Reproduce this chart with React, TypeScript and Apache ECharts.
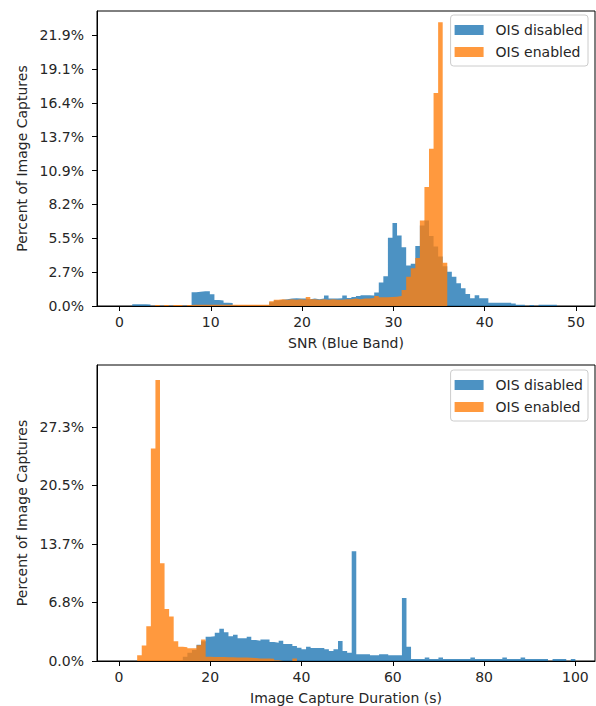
import React, { useEffect, useRef } from 'react';
import * as echarts from 'echarts';

const FONT = '"DejaVu Sans", sans-serif';
const TEXT = '#262626';
const SERIES_NAMES = ['OIS disabled', 'OIS enabled'];
const COLORS = ['rgba(31,119,180,0.8)', 'rgba(255,127,14,0.8)'];

// ---- Top panel: SNR (Blue Band) histogram, bins of 0.5 starting at 0.4 ----
const SNR_BIN_START = 0.4;
const SNR_BIN_WIDTH = 0.5;
const snrDisabled = [
  0, 0, 0.15, 0.15, 0.15, 0.12, 0, 0, 0, 0,
  0, 0, 0, 0, 0, 1.1, 1.15, 1.2, 1.2, 0.95,
  0.48, 0.45, 0.27, 0.25, 0.08, 0, 0, 0, 0, 0,
  0, 0, 0.3, 0.45, 0.5, 0.55, 0.6, 0.62, 0.6, 0.6,
  0.55, 0.6, 0.55, 0.6, 0.85, 0.6, 0.6, 0.62, 0.85, 0.65,
  0.72, 0.8, 0.87, 0.87, 0.85, 1.08, 1.9, 2.4, 5.5, 6.7,
  5.7, 4.74, 3.26, 3.4, 4.85, 6.5, 6.9, 5.65, 4.8, 4.0,
  3.2, 2.77, 2.37, 1.83, 1.43, 0.97, 0.62, 0.86, 0.62, 0.62,
  0.27, 0.27, 0.27, 0.27, 0.27, 0.2, 0.1, 0.1, 0, 0.08,
  0, 0.1, 0.1, 0.1, 0.1, 0, 0, 0, 0, 0,
];
const snrEnabled = [
  0, 0, 0, 0, 0, 0, 0, 0.08, 0, 0.08,
  0, 0.08, 0.08, 0, 0.08, 0.1, 0.1, 0.1, 0.1, 0.1,
  0.1, 0.1, 0.1, 0.1, 0.1, 0.1, 0.1, 0.1, 0.1, 0.1,
  0.1, 0.1, 0.38, 0.5, 0.55, 0.5, 0.55, 0.5, 0.55, 0.5,
  0.72, 0.55, 0.5, 0.55, 0.5, 0.55, 0.5, 0.5, 0.55, 0.55,
  0.6, 0.55, 0.6, 0.6, 0.65, 0.8, 0.7, 0.7, 0.72, 0.75,
  0.8, 1.3, 2.37, 3.05, 3.87, 6.9, 9.6, 12.7, 17.2, 22.9,
  3.5, 0, 0, 0, 0, 0, 0, 0, 0, 0,
  0, 0, 0, 0, 0, 0, 0, 0, 0, 0,
  0, 0, 0, 0, 0, 0, 0, 0, 0, 0,
];
const SNR_X_TICKS = [0, 10, 20, 30, 40, 50];
const SNR_X_MIN = -2.46;
const SNR_X_MAX = 52.08;
const SNR_Y_STEP = (100 * 50) / 1829;
const SNR_Y_MAX = 23.81;
const SNR_Y_LABELS = ['0.0%', '2.7%', '5.5%', '8.2%', '10.9%', '13.7%', '16.4%', '19.1%', '21.9%'];

// ---- Bottom panel: Image Capture Duration histogram, bins of 1 s starting at 0 ----
const DUR_BIN_START = 0;
const DUR_BIN_WIDTH = 1;
const durDisabled = [
  0, 0, 0, 0, 0, 0, 0, 0, 0, 0,
  0, 0, 0, 0, 0.5, 0.97, 1.28, 1.9, 2.3, 2.83,
  2.9, 3.3, 3.76, 3.37, 2.9, 3.05, 2.67, 2.67, 2.83, 2.44,
  2.37, 2.52, 2.52, 2.21, 2.14, 2.37, 1.98, 1.98, 1.74, 1.55,
  1.36, 1.67, 1.51, 1.51, 1.51, 1.36, 1.16, 1.36, 2.33, 1.16,
  0.97, 12.8, 0.78, 0.78, 0.78, 0.66, 0.66, 0.78, 0.78, 0.66,
  0.66, 0.66, 7.36, 1.67, 0.22, 0.22, 0.22, 0.4, 0.22, 0.22,
  0.4, 0.22, 0.22, 0.22, 0.22, 0.22, 0.22, 0.4, 0.22, 0.22,
  0.22, 0.22, 0.22, 0.22, 0.4, 0.22, 0.22, 0.22, 0.4, 0.22,
  0.22, 0.22, 0.22, 0.22, 0, 0.22, 0.22, 0.22, 0, 0.22,
];
const durEnabled = [
  0, 0, 0, 0, 0.66, 1.82, 4.07, 24.8, 32.8, 11.4,
  6.08, 5.2, 2.3, 1.67, 1.6, 1.5, 1.5, 1.85, 2.5, 0.5,
  0.47, 0.47, 0.47, 0.45, 0.45, 0.42, 0.4, 0.4, 0.38, 0.35,
  0.3, 0.3, 0.28, 0.25, 0.08, 0, 0, 0, 0.3, 0,
  0, 0, 0, 0, 0, 0, 0, 0, 0, 0,
  0, 0, 0, 0, 0, 0, 0, 0, 0, 0,
  0, 0, 0, 0, 0, 0, 0, 0, 0, 0,
  0, 0, 0, 0, 0, 0, 0, 0, 0, 0,
  0, 0, 0, 0, 0, 0, 0, 0, 0, 0,
  0, 0, 0, 0, 0, 0, 0, 0, 0, 0,
];
const DUR_X_TICKS = [0, 20, 40, 60, 80, 100];
const DUR_X_MIN = -4.8;
const DUR_X_MAX = 104.3;
const DUR_Y_STEP = (100 * 125) / 1829;
const DUR_Y_MAX = 34.55;
const DUR_Y_LABELS = ['0.0%', '6.8%', '13.7%', '20.5%', '27.3%'];

const Y_NAME = 'Percent of Image Captures';

// Histogram as step points: each bin's left edge with its value, plus the final right edge.
function toSteps(values: number[], start: number, width: number) {
  const pts = values.map((v, i) => [start + i * width, v]);
  pts.push([start + values.length * width, values[values.length - 1]]);
  return pts;
}

const textStyle = { fontSize: 14, fontFamily: FONT, color: TEXT };

function xAxisCfg(gridIndex: number, min: number, max: number, ticks: number[], name: string) {
  return {
    type: 'value',
    gridIndex,
    min,
    max,
    name,
    nameLocation: 'middle',
    nameGap: 30,
    nameTextStyle: textStyle,
    axisLine: { show: true, onZero: false, lineStyle: { color: '#000', width: 1 } },
    axisTick: { show: true, length: 5, lineStyle: { color: '#000', width: 1 }, customValues: ticks },
    axisLabel: { ...textStyle, margin: 9, customValues: ticks, formatter: (v: number) => String(v) },
    splitLine: { show: false },
  };
}

function yAxisCfg(gridIndex: number, max: number, step: number, labels: string[]) {
  const vals = labels.map((_, i) => i * step);
  return {
    type: 'value',
    gridIndex,
    min: 0,
    max,
    name: Y_NAME,
    nameLocation: 'middle',
    nameGap: 64,
    nameTextStyle: textStyle,
    axisLine: { show: true, onZero: false, lineStyle: { color: '#000', width: 1 } },
    axisTick: { show: true, length: 5, lineStyle: { color: '#000', width: 1 }, customValues: vals },
    axisLabel: {
      ...textStyle,
      margin: 13,
      customValues: vals,
      formatter: (v: number) => labels[Math.round(v / step)] ?? '',
    },
    splitLine: { show: false },
  };
}

function legendCfg(top: number) {
  return {
    orient: 'vertical',
    right: 8,
    top,
    itemWidth: 29,
    itemHeight: 10,
    itemGap: 8,
    selectedMode: false,
    backgroundColor: 'rgba(255,255,255,0.8)',
    borderColor: '#cccccc',
    borderWidth: 1,
    borderRadius: 3,
    padding: [8, 5, 7, 4],
    textStyle: { ...textStyle, lineHeight: 14, padding: [0, 0, 0, 7] },
    data: SERIES_NAMES.map((n) => ({ name: n, icon: 'rect' })),
  };
}

export default function App() {
  const ref = useRef<HTMLDivElement>(null);
  useEffect(() => {
    if (!ref.current) return;
    const chart = echarts.init(ref.current, undefined, { renderer: 'svg' });
    const mk = (name: string, color: string, idx: number, data: number[][]) => ({
      type: 'line',
      name,
      xAxisIndex: idx,
      yAxisIndex: idx,
      step: 'end',
      showSymbol: false,
      symbol: 'none',
      silent: true,
      itemStyle: { color },
      lineStyle: { width: 0, opacity: 0 },
      areaStyle: { color, opacity: 1 },
      data,
    });
    chart.setOption({
      animation: false,
      backgroundColor: '#ffffff',
      grid: [
        { left: 97, top: 11, width: 498, height: 295, show: true, borderColor: '#000', borderWidth: 1, backgroundColor: 'transparent' },
        { left: 97, top: 365, width: 498, height: 297, show: true, borderColor: '#000', borderWidth: 1, backgroundColor: 'transparent' },
      ],
      xAxis: [
        xAxisCfg(0, SNR_X_MIN, SNR_X_MAX, SNR_X_TICKS, 'SNR (Blue Band)'),
        xAxisCfg(1, DUR_X_MIN, DUR_X_MAX, DUR_X_TICKS, 'Image Capture Duration (s)'),
      ],
      yAxis: [
        yAxisCfg(0, SNR_Y_MAX, SNR_Y_STEP, SNR_Y_LABELS),
        yAxisCfg(1, DUR_Y_MAX, DUR_Y_STEP, DUR_Y_LABELS),
      ],
      legend: [legendCfg(15), legendCfg(370)],
      series: [
        mk(SERIES_NAMES[0], COLORS[0], 0, toSteps(snrDisabled, SNR_BIN_START, SNR_BIN_WIDTH)),
        mk(SERIES_NAMES[1], COLORS[1], 0, toSteps(snrEnabled, SNR_BIN_START, SNR_BIN_WIDTH)),
        mk(SERIES_NAMES[0], COLORS[0], 1, toSteps(durDisabled, DUR_BIN_START, DUR_BIN_WIDTH)),
        mk(SERIES_NAMES[1], COLORS[1], 1, toSteps(durEnabled, DUR_BIN_START, DUR_BIN_WIDTH)),
      ],
    });
    return () => chart.dispose();
  }, []);
  return (
    <div
      ref={ref}
      style={{ position: 'fixed', left: 0, top: 0, width: 596, height: 706, background: '#fff' }}
    />
  );
}
